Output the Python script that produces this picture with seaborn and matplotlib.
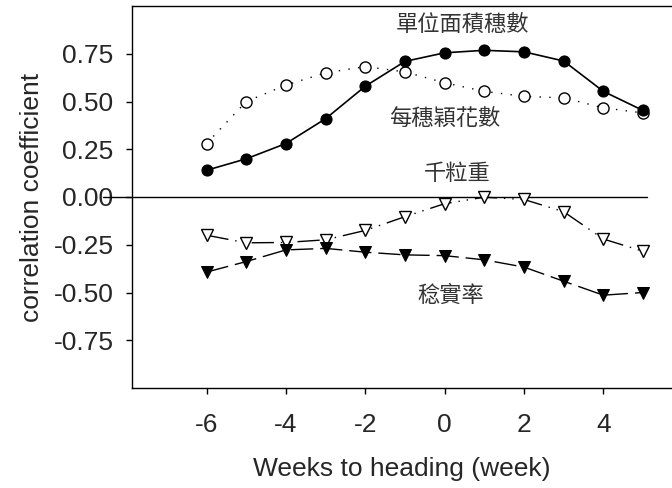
import numpy as np
import pandas as pd
import seaborn as sns
import matplotlib.pyplot as plt

# weeks relative to heading
weeks = [-6, -5, -4, -3, -2, -1, 0, 1, 2, 3, 4, 5]

# correlation coefficients
panicles_per_area = [0.14, 0.20, 0.28, 0.41, 0.58, 0.71, 0.755, 0.768, 0.76, 0.712, 0.553, 0.453]
spikelets_per_panicle = [0.28, 0.50, 0.586, 0.65, 0.683, 0.655, 0.598, 0.553, 0.527, 0.519, 0.467, 0.44]
grain_weight = [-0.20, -0.24, -0.238, -0.224, -0.175, -0.103, -0.035, -0.001, -0.013, -0.077, -0.22, -0.284]
fertility = [-0.393, -0.338, -0.277, -0.269, -0.289, -0.303, -0.307, -0.329, -0.367, -0.441, -0.514, -0.50]

labels = ['單位面積穗數', '每穗穎花數', '千粒重', '稔實率']
label_x = [0.46, 0.0, 0.33, 0.15]
label_y = [0.904, 0.412, 0.122, -0.514]

xticks = [-6, -4, -2, 0, 2, 4]
yticks = [-0.75, -0.5, -0.25, 0.0, 0.25, 0.5, 0.75]
zero_line_x = [-8.6, 5.1]

sns.set_style('ticks')
plt.rcParams['font.family'] = ['Liberation Sans', 'DejaVu Sans']

fig = plt.figure(figsize=(6.72, 4.88), dpi=100)
ax = fig.add_axes([132 / 672, 100 / 488, 540 / 672, 382 / 488])

df = pd.DataFrame({'week': weeks, 'a': panicles_per_area, 'b': spikelets_per_panicle,
                   'c': grain_weight, 'd': fertility})

# horizontal zero line, runs out over the 0.00 tick label like the original
ax.plot(zero_line_x, [0, 0], color='black', lw=1, clip_on=False, zorder=1)

sns.lineplot(data=df, x='week', y='b', ax=ax, color='black', lw=1, linestyle=(0, (1, 6)),
             marker='o', markersize=8, markerfacecolor='white', markeredgecolor='black',
             markeredgewidth=1, zorder=3)
sns.lineplot(data=df, x='week', y='a', ax=ax, color='black', lw=1.2, linestyle='-',
             marker='o', markersize=8, markerfacecolor='black', markeredgecolor='black', zorder=4)
sns.lineplot(data=df, x='week', y='c', ax=ax, color='black', lw=1, linestyle=(0, (16, 5, 1, 5, 1, 5)),
             marker='v', markersize=8, markerfacecolor='white', markeredgecolor='black',
             markeredgewidth=1, zorder=3)
sns.lineplot(data=df, x='week', y='d', ax=ax, color='black', lw=1, linestyle=(0, (16, 5)),
             marker='v', markersize=8, markerfacecolor='black', markeredgecolor='black', zorder=4)

for t, x, y in zip(labels, label_x, label_y):
    ax.text(x, y, t, ha='center', va='center', fontsize=16, color='#333333',
            family=['Noto Sans CJK TC', 'DejaVu Sans'])

ax.set_xlim(-7.88, 5.73)
ax.set_ylim(-1, 1)
ax.set_xticks(xticks)
ax.set_xticklabels([str(v) for v in xticks])
ax.set_yticks(yticks)
ax.set_yticklabels([f'{v:.2f}' for v in yticks])
ax.tick_params(axis='both', direction='out', length=4.3, width=1, labelsize=19, color='black')
ax.tick_params(axis='y', pad=9)
ax.tick_params(axis='x', pad=14)
ax.spines['right'].set_visible(False)
for s in ['left', 'top', 'bottom']:
    ax.spines[s].set_linewidth(1)
    ax.spines[s].set_color('black')

ax.set_xlabel('Weeks to heading (week)', fontsize=19, labelpad=14)
ax.set_ylabel('correlation coefficient', fontsize=19, labelpad=7)

fig.savefig('out.png', dpi=100)
